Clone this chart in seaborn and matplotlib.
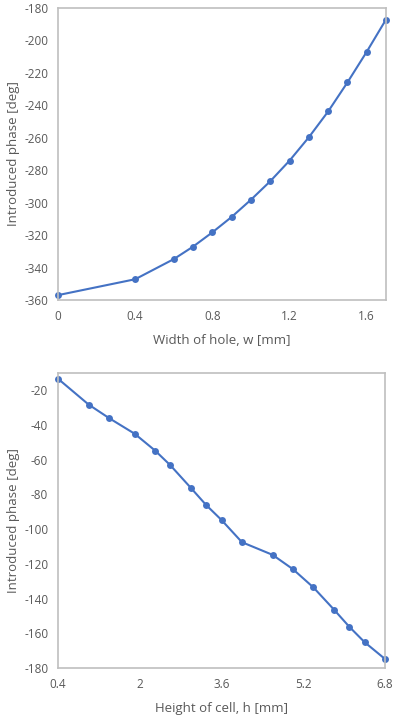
import matplotlib
matplotlib.use("Agg")
import matplotlib.pyplot as plt
import seaborn as sns
import pandas as pd

# Data
width_mm = [0, 0.4, 0.6, 0.7, 0.8, 0.9, 1.0, 1.1, 1.2, 1.3, 1.4, 1.5, 1.6, 1.7]
phase_width = [-357.0, -347.2, -334.8, -327.1, -318.3, -308.8, -298.2, -286.8,
               -274.1, -259.7, -243.8, -225.9, -207.0, -187.1]

height_mm = [0.4, 1.0, 1.4, 1.9, 2.3, 2.6, 3.0, 3.3, 3.6, 4.0, 4.6, 5.0, 5.4, 5.8, 6.1, 6.4, 6.8]
phase_height = [-13.3, -28.2, -36.0, -45.0, -54.7, -63.2, -76.2, -86.1, -94.7, -107.5,
                -114.8, -123.1, -133.6, -146.3, -156.2, -165.1, -174.8]

top_xticks = [0, 0.4, 0.8, 1.2, 1.6]
top_xticklabels = ["0", "0.4", "0.8", "1.2", "1.6"]
top_yticks = [-360, -340, -320, -300, -280, -260, -240, -220, -200, -180]
bot_xticks = [0.4, 2, 3.6, 5.2, 6.8]
bot_xticklabels = ["0.4", "2", "3.6", "5.2", "6.8"]
bot_yticks = [-180, -160, -140, -120, -100, -80, -60, -40, -20]

sns.set_style("white")
plt.rcParams['font.family'] = ['Open Sans', 'DejaVu Sans']
plt.rcParams['axes.unicode_minus'] = False

W, H = 393, 717
fig = plt.figure(figsize=(W / 100, H / 100), dpi=100)

def px_axes(l, t, r, b):
    return fig.add_axes([l / W, 1 - b / H, (r - l) / W, (b - t) / H])

ax1 = px_axes(58, 8, 386, 300)
ax2 = px_axes(58, 373, 385, 668)

line_color = "#4472C4"
spine_color = "#bfbfbf"
text_color = "#595959"

df1 = pd.DataFrame({"w": width_mm, "phase": phase_width})
df2 = pd.DataFrame({"h": height_mm, "phase": phase_height})

sns.lineplot(data=df1, x="w", y="phase", ax=ax1, color=line_color, marker="o",
             markersize=5, markeredgewidth=0, linewidth=1.5, clip_on=False)
sns.lineplot(data=df2, x="h", y="phase", ax=ax2, color=line_color, marker="o",
             markersize=5, markeredgewidth=0, linewidth=1.5, clip_on=False)

ax1.set_xlim(0, 1.7)
ax1.set_ylim(-360, -180)
ax1.set_xticks(top_xticks)
ax1.set_xticklabels(top_xticklabels)
ax1.set_yticks(top_yticks)
ax1.set_xlabel("Width of hole, w [mm]", fontsize=9.5, color=text_color, labelpad=8)
ax1.set_ylabel("Introduced phase [deg]", fontsize=9.5, color=text_color, labelpad=3)

ax2.set_xlim(0.4, 6.8)
ax2.set_ylim(-180, -10)
ax2.set_xticks(bot_xticks)
ax2.set_xticklabels(bot_xticklabels)
ax2.set_yticks(bot_yticks)
ax2.set_xlabel("Height of cell, h [mm]", fontsize=9.5, color=text_color, labelpad=8)
ax2.set_ylabel("Introduced phase [deg]", fontsize=9.5, color=text_color, labelpad=3)

for ax in (ax1, ax2):
    for s in ax.spines.values():
        s.set_visible(True)
        s.set_color(spine_color)
        s.set_linewidth(1.2)
    ax.tick_params(axis="both", length=0, labelsize=8.5, colors=text_color, pad=7)
    ax.grid(False)

fig.savefig("out.png", dpi=100)
